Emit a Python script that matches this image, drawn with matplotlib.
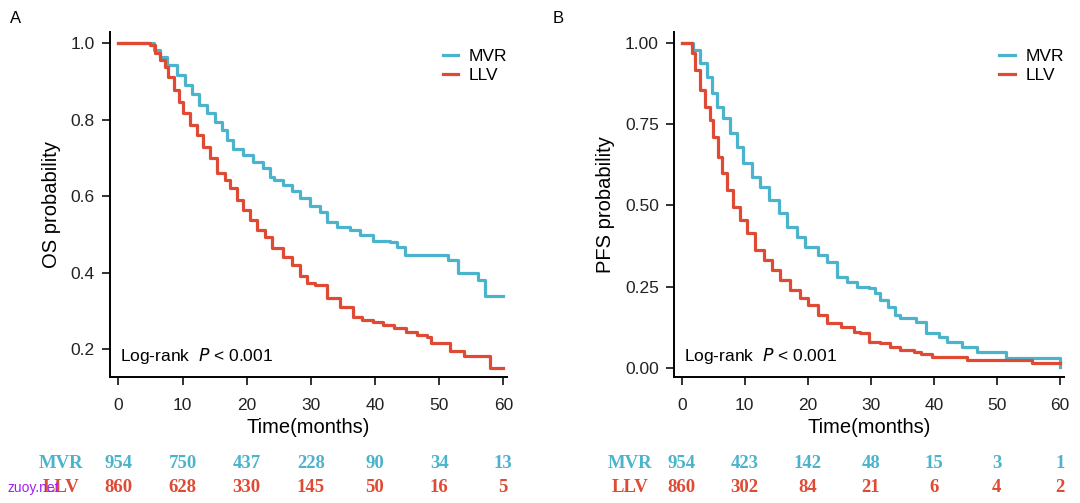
import matplotlib.pyplot as plt
from matplotlib.transforms import blended_transform_factory

# colores
c_mvr = "#4BB4CC"
c_llv = "#DE4A33"

# Panel A: OS (tiempo en meses, probabilidad)
os_mvr_t = [0, 4.4, 5.5, 6.5, 7.5, 9.1, 10.4, 11.4, 12.5, 13.8, 15.1, 16.1, 16.9,
            17.9, 19.5, 21.0, 22.6, 23.6, 24.2, 25.7, 27.0, 28.3, 29.9, 31.4,
            32.5, 34.0, 36.1, 37.7, 39.7, 42.3, 43.4, 44.7, 51.2, 51.4, 53.0,
            56.1, 57.1, 60]
os_mvr_s = [1.0, 1.0, 0.982, 0.965, 0.943, 0.917, 0.891, 0.869, 0.839, 0.817,
            0.795, 0.773, 0.747, 0.725, 0.708, 0.69, 0.673, 0.651, 0.643, 0.63,
            0.615, 0.595, 0.575, 0.56, 0.534, 0.521, 0.512, 0.499, 0.484, 0.481,
            0.468, 0.447, 0.447, 0.433, 0.399, 0.381, 0.338, 0.338]
os_llv_t = [0, 4.4, 4.9, 5.7, 6.5, 7.3, 7.8, 8.6, 9.4, 10.1, 11.2, 12.2, 13.2,
            14.3, 15.3, 16.6, 17.4, 18.5, 19.5, 20.5, 21.6, 22.9, 23.9, 25.7,
            27.0, 28.3, 29.4, 30.7, 32.5, 34.5, 36.6, 37.9, 39.7, 41.3, 42.9,
            44.9, 46.5, 48.1, 48.8, 51.7, 53.8, 57.9, 60]
os_llv_s = [1.0, 1.0, 0.996, 0.974, 0.956, 0.939, 0.913, 0.878, 0.847, 0.817,
            0.786, 0.76, 0.73, 0.699, 0.66, 0.643, 0.621, 0.59, 0.564, 0.538,
            0.512, 0.494, 0.464, 0.442, 0.42, 0.392, 0.373, 0.368, 0.333, 0.311,
            0.285, 0.277, 0.272, 0.264, 0.255, 0.246, 0.237, 0.233, 0.216, 0.196,
            0.181, 0.15, 0.15]

# Panel B: PFS
pfs_mvr_t = [0, 0.8, 1.8, 2.9, 4.0, 4.8, 5.6, 6.6, 7.7, 8.7, 9.8, 11.1, 12.4,
             13.8, 15.4, 16.7, 18.3, 19.6, 21.7, 23.0, 24.6, 26.2, 27.8, 29.7,
             30.7, 31.5, 32.8, 33.9, 34.7, 37.1, 38.7, 40.8, 42.1, 44.5, 46.9,
             51.4, 59.95, 60]
pfs_mvr_s = [1.0, 0.998, 0.978, 0.937, 0.896, 0.845, 0.803, 0.768, 0.722, 0.681,
             0.63, 0.588, 0.558, 0.517, 0.476, 0.435, 0.404, 0.373, 0.348, 0.327,
             0.281, 0.266, 0.251, 0.246, 0.23, 0.21, 0.189, 0.164, 0.154, 0.143,
             0.107, 0.097, 0.082, 0.066, 0.051, 0.031, 0.005, 0.005]
pfs_llv_t = [0, 0.8, 1.6, 2.1, 2.9, 3.7, 4.5, 5.0, 5.8, 6.4, 7.2, 8.2, 9.3, 10.3,
             11.6, 13.0, 14.3, 15.6, 17.2, 18.8, 20.1, 21.7, 23.0, 25.2, 27.3,
             28.3, 29.7, 31.5, 33.1, 34.7, 36.8, 37.9, 39.7, 45.3, 55.6, 60]
pfs_llv_s = [1.0, 0.998, 0.967, 0.916, 0.855, 0.803, 0.763, 0.711, 0.65, 0.599,
             0.548, 0.496, 0.455, 0.415, 0.363, 0.333, 0.302, 0.271, 0.24, 0.215,
             0.194, 0.164, 0.138, 0.128, 0.112, 0.107, 0.082, 0.077, 0.066,
             0.056, 0.051, 0.044, 0.034, 0.026, 0.017, 0.017]

# tabla de riesgo
risk_x = [0, 10, 20, 30, 40, 50, 60]
os_risk_mvr = [954, 750, 437, 228, 90, 34, 13]
os_risk_llv = [860, 628, 330, 145, 50, 16, 5]
pfs_risk_mvr = [954, 423, 142, 48, 15, 3, 1]
pfs_risk_llv = [860, 302, 84, 21, 6, 4, 2]

plt.rcParams['font.family'] = ['Liberation Sans', 'DejaVu Sans']

fig = plt.figure(figsize=(10.8, 5.03), dpi=100)
axA = fig.add_axes([0.1019, 0.2511, 0.3677, 0.6853])
axB = fig.add_axes([0.6241, 0.2511, 0.3608, 0.6853])


def estilo(ax, ylab, yticks, yfmt, ylim, xlim):
    for s in ['top', 'right']:
        ax.spines[s].set_visible(False)
    for s in ['left', 'bottom']:
        ax.spines[s].set_linewidth(1.4)
    ax.set_xlim(*xlim)
    ax.set_ylim(*ylim)
    ax.set_xticks([0, 10, 20, 30, 40, 50, 60])
    ax.set_yticks(yticks)
    ax.set_yticklabels([yfmt.format(v) for v in yticks])
    ax.tick_params(direction='out', length=6, width=1.3, labelsize=12.5,
                   colors='#222222', pad=5)
    ax.tick_params(axis='x', pad=9)
    ax.set_xlabel("Time(months)", fontsize=14.5, labelpad=4)
    ax.set_ylabel(ylab, fontsize=14.5, labelpad=7)
    ax.text(0.025, 0.03, "Log-rank  $\\mathit{P}$ < 0.001", transform=ax.transAxes,
            fontsize=12.5, ha='left', va='bottom')
    ax.legend(loc='upper right', bbox_to_anchor=(1.0, 0.95), frameon=False,
              fontsize=12.5, handlelength=0.9, handletextpad=0.6,
              labelspacing=0.22, borderaxespad=0, borderpad=0)


# Panel A
axA.plot(os_mvr_t, os_mvr_s, drawstyle='steps-post', color=c_mvr, lw=2.3, label="MVR")
axA.plot(os_llv_t, os_llv_s, drawstyle='steps-post', color=c_llv, lw=2.3, label="LLV")
estilo(axA, "OS probability", [0.2, 0.4, 0.6, 0.8, 1.0], "{:.1f}",
       (0.128, 1.03), (-1.3, 60.6))

# Panel B
axB.plot(pfs_mvr_t, pfs_mvr_s, drawstyle='steps-post', color=c_mvr, lw=2.3, label="MVR")
axB.plot(pfs_llv_t, pfs_llv_s, drawstyle='steps-post', color=c_llv, lw=2.3, label="LLV")
estilo(axB, "PFS probability", [0.0, 0.25, 0.5, 0.75, 1.0], "{:.2f}",
       (-0.026, 1.033), (-1.22, 60.6))

# tabla de riesgo debajo
for ax, rm, rl, xlab in [(axA, os_risk_mvr, os_risk_llv, -8.9),
                         (axB, pfs_risk_mvr, pfs_risk_llv, -8.2)]:
    tr = blended_transform_factory(ax.transData, fig.transFigure)
    filas = [("MVR", rm, c_mvr, 0.0795), ("LLV", rl, c_llv, 0.0315)]
    for nombre, vals, col, yf in filas:
        ax.text(xlab, yf, nombre, transform=tr, color=col, fontsize=13.5,
                family='Liberation Serif', weight='bold', ha='center', va='center')
        for x, v in zip(risk_x, vals):
            ax.text(x, yf, str(v), transform=tr, color=col, fontsize=13.5,
                    family='Liberation Serif', weight='bold', ha='center', va='center')

fig.text(0.009, 0.964, "A", fontsize=12, ha='left', va='center')
fig.text(0.512, 0.964, "B", fontsize=12, ha='left', va='center')
fig.text(0.007, 0.03, "zuoy.net", fontsize=10, color='#A020F0', ha='left', va='center')

fig.savefig("out.png", dpi=100)
